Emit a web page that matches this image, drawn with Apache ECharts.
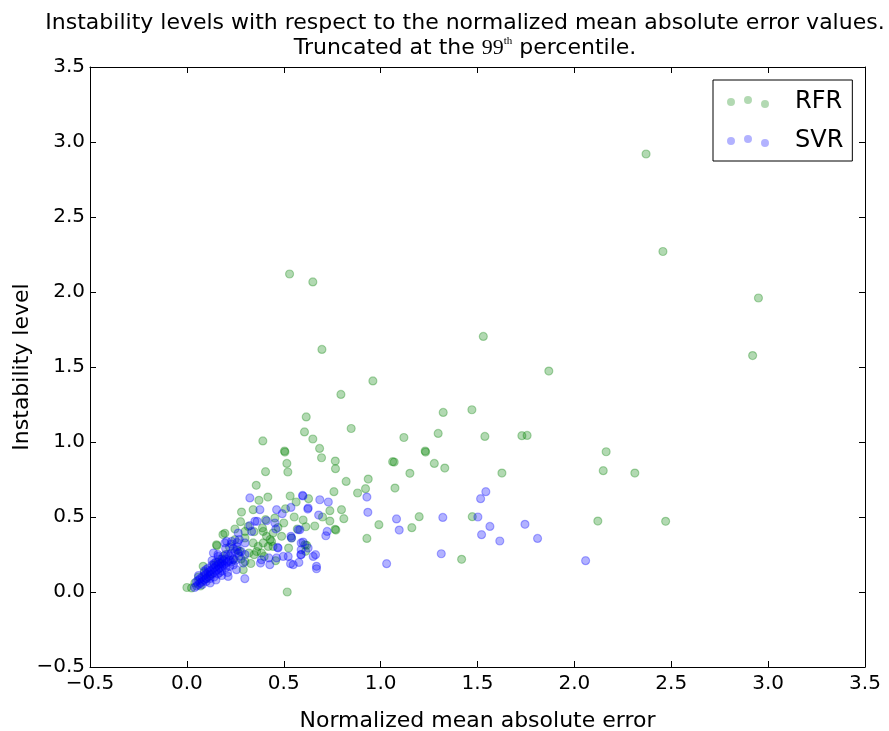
<!DOCTYPE html>
<html>
<head>
<meta charset="utf-8">
<script src="https://cdn.jsdelivr.net/npm/echarts@6/dist/echarts.min.js"></script>
<style>html,body{margin:0;padding:0;background:#fff;}#c{width:889px;height:731px;}</style>
</head>
<body>
<div id="c"></div>
<script>
const titleLine1 = 'Instability levels with respect to the normalized mean absolute error values.';
const xAxisName = 'Normalized mean absolute error';
const yAxisName = 'Instability level';
const seriesNames = ['RFR', 'SVR'];
const axisTicks = [-0.5, 0.0, 0.5, 1.0, 1.5, 2.0, 2.5, 3.0, 3.5];

const rfrPoints = [
  [2.37,2.92],[2.457,2.27],[2.95,1.96],[2.92,1.576],[1.868,1.473],[1.53,1.704],[0.53,2.12],[0.65,2.067],
  [0.697,1.617],[0.96,1.407],[0.795,1.317],[0.616,1.167],[0.607,1.067],[0.65,1.02],[0.848,1.09],[1.323,1.197],
  [1.471,1.215],[1.12,1.03],[1.297,1.057],[1.538,1.037],[1.729,1.042],[1.756,1.044],[0.685,0.957],[0.504,0.94],
  [1.23,0.94],[0.695,0.895],[0.766,0.873],[0.767,0.822],[1.062,0.869],[1.07,0.866],[1.232,0.933],[1.277,0.857],
  [1.331,0.826],[1.151,0.791],[1.626,0.793],[2.164,0.935],[2.149,0.809],[2.312,0.793],[0.822,0.737],[0.936,0.753],
  [1.074,0.693],[0.922,0.689],[0.881,0.66],[0.759,0.669],[0.628,0.622],[0.798,0.549],[0.738,0.542],[0.81,0.489],
  [0.738,0.473],[0.614,0.435],[0.769,0.413],[0.765,0.418],[0.991,0.449],[1.161,0.429],[1.199,0.502],[1.473,0.502],
  [0.929,0.357],[1.418,0.218],[2.121,0.473],[2.471,0.471],[0.618,0.311],
  [0.392,1.007],[0.506,0.933],[0.516,0.857],[0.521,0.8],[0.406,0.802],[0.358,0.711],[0.418,0.633],[0.372,0.611],
  [0.533,0.64],[0.564,0.6],[0.282,0.533],[0.342,0.549],[0.509,0.555],[0.554,0.5],[0.277,0.469],[0.248,0.42],
  [0.316,0.437],[0.406,0.482],[0.454,0.493],[0.39,0.427],[0.347,0.402],[0.445,0.393],[0.411,0.371],[0.196,0.391],
  [0.155,0.309],[0.525,0.293],[0.445,0.304],[0.342,0.327],[0.368,0.304],[0.42,0.304],[0.32,0.26],[0.347,0.249],
  [0.399,0.237],[0.458,0.209],[0.609,0.315],[0.613,0.271],[0.518,0.0],[0.084,0.171],[0.291,0.149],[0.024,0.027],
  [0.041,0.06],[0.248,0.349],[0.3,0.36],[0.186,0.383],[0.153,0.315],[0.0,0.03],
  [0.12,0.12],[0.1,0.09],[0.16,0.2],[0.2,0.25],[0.22,0.3],[0.26,0.28],[0.28,0.22],[0.33,0.19],[0.36,0.27],
  [0.43,0.35],[0.47,0.43],[0.5,0.46],[0.54,0.36],[0.57,0.42],[0.6,0.48],[0.66,0.44],[0.7,0.5],
  [0.3,0.404],[0.394,0.404],[0.489,0.371],[0.437,0.337],[0.394,0.327],[0.385,0.26],[0.273,0.271],[0.3,0.204],
  [0.239,0.215],[0.06,0.1],[0.09,0.13],[0.14,0.18],[0.18,0.22],[0.07,0.04]
];

const svrPoints = [
  [0.599,0.64],[0.686,0.615],[0.73,0.6],[0.624,0.553],[0.68,0.513],[0.929,0.633],[0.934,0.531],[1.082,0.487],
  [1.096,0.413],[1.321,0.497],[1.543,0.669],[1.516,0.622],[1.502,0.5],[1.564,0.437],[1.521,0.382],[1.615,0.34],
  [1.745,0.451],[1.81,0.357],[2.058,0.209],[1.313,0.255],[1.031,0.189],[0.724,0.404],[0.717,0.375],[0.664,0.249],
  [0.669,0.155],[0.583,0.415],[0.59,0.327],[0.59,0.25],
  [0.325,0.627],[0.597,0.644],[0.463,0.549],[0.537,0.564],[0.492,0.522],[0.325,0.442],[0.363,0.471],[0.459,0.42],
  [0.411,0.475],[0.537,0.371],[0.6,0.333],[0.468,0.297],[0.497,0.237],[0.535,0.189],[0.578,0.197],[0.588,0.249],
  [0.59,0.282],[0.38,0.193],[0.423,0.227],[0.3,0.327],[0.265,0.393],[0.231,0.337],[0.196,0.327],[0.265,0.26],
  [0.256,0.149],[0.299,0.089],[0.213,0.104],[0.291,0.193],[0.179,0.189],[0.161,0.237],[0.137,0.26],[0.377,0.549],
  [0.626,0.56],[0.351,0.471],[0.454,0.46],[0.334,0.404],[0.205,0.337],[0.575,0.415],[0.54,0.36],[0.471,0.293],
  [0.523,0.237],[0.626,0.293],[0.463,0.227],[0.385,0.215],[0.428,0.182],[0.549,0.182],[0.652,0.237],[0.669,0.171],
  [0.05,0.04],[0.06,0.05],[0.07,0.06],[0.06,0.08],[0.08,0.07],[0.08,0.1],[0.09,0.08],[0.1,0.09],[0.1,0.12],
  [0.11,0.1],[0.11,0.13],[0.12,0.11],[0.12,0.14],[0.13,0.12],[0.13,0.15],[0.14,0.13],[0.14,0.16],[0.15,0.14],
  [0.15,0.17],[0.16,0.15],[0.16,0.18],[0.17,0.16],[0.17,0.19],[0.18,0.17],[0.18,0.2],[0.19,0.18],[0.19,0.21],
  [0.2,0.19],[0.2,0.22],[0.21,0.2],[0.22,0.21],[0.23,0.2],[0.24,0.22],[0.25,0.21],[0.07,0.09],[0.09,0.11],
  [0.05,0.07],[0.08,0.05],[0.1,0.07],[0.12,0.09],[0.14,0.1],[0.16,0.12],[0.18,0.14],[0.2,0.16],[0.22,0.17],
  [0.24,0.18],[0.11,0.16],[0.13,0.18],[0.15,0.2],[0.17,0.22],[0.19,0.24],[0.21,0.25],[0.23,0.26],[0.25,0.27],
  [0.27,0.24],[0.26,0.3],[0.28,0.27],[0.3,0.25],[0.09,0.14],[0.12,0.06],[0.15,0.08],[0.18,0.11],[0.21,0.13],
  [0.06,0.11],[0.04,0.03],[0.13,0.21],[0.16,0.25],[0.2,0.29],[0.23,0.32],[0.27,0.35],
  [0.1,0.15],[0.14,0.19],[0.17,0.13],[0.22,0.24],[0.24,0.29],[0.26,0.33]
];

const FONT = 'DejaVu Sans';
const fmt = v => (v < 0 ? '\u2212' : '') + Math.abs(v).toFixed(1);
const tickMin = axisTicks[0], tickMax = axisTicks[axisTicks.length - 1], tickStep = axisTicks[1] - axisTicks[0];

function baseAxis(extra) {
  return Object.assign({
    type: 'value', min: tickMin, max: tickMax, interval: tickStep,
    axisLine: { show: true, onZero: false, lineStyle: { color: '#000', width: 1 } },
    axisTick: { show: true, inside: true, length: 6, lineStyle: { color: '#000', width: 1 } },
    splitLine: { show: false }
  }, extra);
}

const dotsIcon = 'path://M0,6a4,4 0 1,0 8,0a4,4 0 1,0 -8,0M17,4a4,4 0 1,0 8,0a4,4 0 1,0 -8,0M34,8a4,4 0 1,0 8,0a4,4 0 1,0 -8,0';

const chart = echarts.init(document.getElementById('c'), null, { renderer: 'canvas' });
chart.setOption({
  backgroundColor: '#fff',
  animation: false,
  title: {
    text: titleLine1 + '\nTruncated at the {n|99}{s|th} percentile.',
    left: 460, top: 6, textAlign: 'center',
    textStyle: {
      fontFamily: FONT, fontSize: 22, fontWeight: 'normal', color: '#000', lineHeight: 25,
      rich: {
        n: { fontFamily: 'Liberation Serif', fontSize: 22, color: '#000', lineHeight: 25 },
        s: { fontFamily: 'Liberation Serif', fontSize: 11, color: '#000', lineHeight: 14, verticalAlign: 'top' }
      }
    }
  },
  legend: {
    orient: 'vertical', left: 713, top: 80,
    padding: [10, 9, 8, 14], itemGap: 15,
    itemWidth: 42, itemHeight: 12, icon: dotsIcon,
    borderColor: '#000', borderWidth: 1, borderRadius: 0, backgroundColor: '#fff',
    textStyle: { fontFamily: FONT, fontSize: 24, color: '#000', padding: [0, 0, 0, 21] },
    itemStyle: { borderWidth: 0 },
    data: seriesNames
  },
  grid: { left: 90, right: 24, top: 67, bottom: 64, containLabel: false, outerBoundsMode: 'none' },
  xAxis: [
    baseAxis({
      position: 'bottom',
      name: xAxisName, nameLocation: 'middle', nameGap: 43, nameMoveOverlap: false,
      nameTextStyle: { fontFamily: FONT, fontSize: 22, color: '#000' },
      axisLabel: { show: true, formatter: fmt, fontFamily: FONT, fontSize: 20, color: '#000', margin: 7, showMinLabel: true, showMaxLabel: true }
    }),
    baseAxis({ position: 'top', axisLabel: { show: false } })
  ],
  yAxis: [
    baseAxis({
      position: 'left',
      name: yAxisName, nameLocation: 'middle', nameGap: 57, nameMoveOverlap: false,
      nameTextStyle: { fontFamily: FONT, fontSize: 22, color: '#000' },
      axisLabel: { show: true, formatter: fmt, fontFamily: FONT, fontSize: 20, color: '#000', margin: 5, showMinLabel: true, showMaxLabel: true }
    }),
    baseAxis({ position: 'right', axisLabel: { show: false } })
  ],
  series: [
    {
      name: seriesNames[0], type: 'scatter', xAxisIndex: 0, yAxisIndex: 0,
      symbol: 'circle', symbolSize: 8,
      itemStyle: { color: 'rgba(0,128,0,0.3)', borderColor: 'rgba(0,128,0,0.3)', borderWidth: 1.2, opacity: 1 },
      emphasis: { disabled: true },
      data: rfrPoints
    },
    {
      name: seriesNames[1], type: 'scatter', xAxisIndex: 0, yAxisIndex: 0,
      symbol: 'circle', symbolSize: 8,
      itemStyle: { color: 'rgba(0,0,255,0.3)', borderColor: 'rgba(0,0,255,0.3)', borderWidth: 1.2, opacity: 1 },
      emphasis: { disabled: true },
      data: svrPoints
    }
  ]
});
</script>
</body>
</html>
